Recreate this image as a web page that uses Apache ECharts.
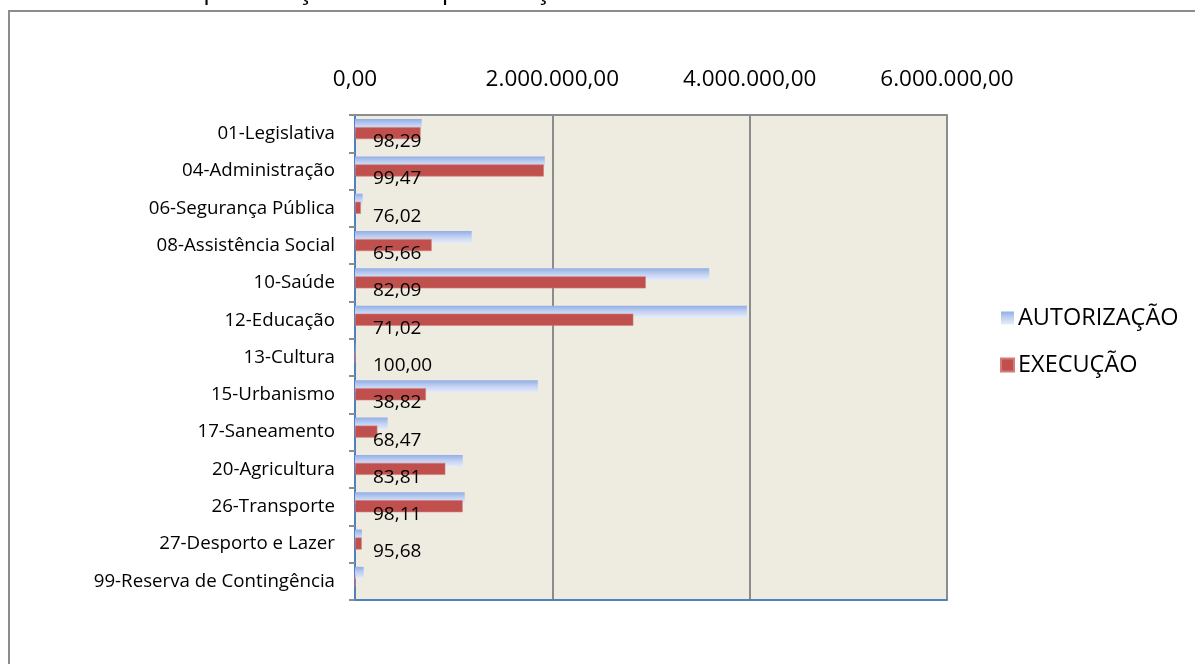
<!DOCTYPE html>
<html><head><meta charset="utf-8">
<script src="https://cdn.jsdelivr.net/npm/echarts@6/dist/echarts.min.js"></script>
<style>html,body{margin:0;padding:0;background:#fff;}#c{width:1195px;height:664px;}</style>
</head><body><div id="c"></div>
<script>
const titleText = 'Gráfico 09 – Despesa Orçamentária por Função de Governo Autorizada x Executada 2013';
const categories = ['01-Legislativa','04-Administração','06-Segurança Pública','08-Assistência Social','10-Saúde','12-Educação','13-Cultura','15-Urbanismo','17-Saneamento','20-Agricultura','26-Transporte','27-Desporto e Lazer','99-Reserva de Contingência'];
const autorizacao = [676000, 1924000, 78000, 1183000, 3590000, 3972000, 3000, 1853000, 331000, 1092000, 1112000, 71000, 88000];
const execucao   = [664500, 1913800, 59300, 777000, 2947000, 2821000, 3000, 719000, 226600, 915200, 1091000, 68000, 0];
const percentual = ['98,29','99,47','76,02','65,66','82,09','71,02','100,00','38,82','68,47','83,81','98,11','95,68',''];
const xTicks = [0, 2000000, 4000000, 6000000];

function fmt(v){
  const s = Math.round(v).toString().replace(/\B(?=(\d{3})+(?!\d))/g,'.');
  return s + ',00';
}
const font = 'Open Sans';
const chart = echarts.init(document.getElementById('c'));
chart.setOption({
  animation:false,
  backgroundColor:'#fff',
  title:{text:titleText,left:2,top:-26,textStyle:{fontFamily:font,fontSize:26,fontWeight:'normal',color:'#000'}},
  graphic:[{type:'rect',shape:{x:9,y:11,width:1300,height:800},style:{fill:'none',stroke:'#8c8c8c',lineWidth:2},silent:true}],
  grid:{left:355,top:115,width:592,height:485,show:true,backgroundColor:'#EEECE1',borderWidth:0},
  legend:{orient:'vertical',left:995,top:300,itemGap:21,itemWidth:13,itemHeight:13,icon:'rect',data:['AUTORIZAÇÃO','EXECUÇÃO'],
    textStyle:{fontFamily:font,fontSize:23.5,lineHeight:26,color:'#000',padding:[0,0,0,-1]}},
  xAxis:[{type:'value',position:'top',min:xTicks[0],max:xTicks[3],interval:2000000,
    axisLine:{show:true,lineStyle:{color:'#8c8c8c',width:2}},axisTick:{show:false},
    axisLabel:{formatter:fmt,fontFamily:font,fontSize:22.5,color:'#000',margin:24},
    splitLine:{show:true,lineStyle:{color:'#8c8c8c',width:2}}},
    {type:'value',position:'bottom',min:0,max:6000000,interval:2000000,
    axisLine:{show:true,lineStyle:{color:'#4F81BD',width:2}},axisTick:{show:false},axisLabel:{show:false},splitLine:{show:false}}],
  yAxis:[{type:'category',data:categories,inverse:true,
    axisLine:{show:true,lineStyle:{color:'#8c8c8c',width:2}},
    axisTick:{show:true,length:6,lineStyle:{color:'#8c8c8c',width:2}},
    axisLabel:{fontFamily:font,fontSize:18.7,color:'#000',margin:20}},
    {type:'category',data:categories,inverse:true,position:'right',
    axisLine:{show:true,lineStyle:{color:'#4F81BD',width:2}},axisTick:{show:false},axisLabel:{show:false}}],
  series:[
    {name:'AUTORIZAÇÃO',type:'bar',data:autorizacao,barWidth:12,barGap:'-33%',
      itemStyle:{color:new echarts.graphic.LinearGradient(0,0,0,1,[{offset:0,color:'#92AEE6'},{offset:0.5,color:'#C3D2F2'},{offset:1,color:'#E6ECFA'}])}},
    {name:'EXECUÇÃO',type:'bar',data:execucao,barWidth:12,barGap:'-33%',
      itemStyle:{color:'#C0504D',borderColor:'#D47A77',borderWidth:0.6}},
    {name:'pct',type:'bar',data:execucao.map(()=>0),barWidth:13,barGap:'-33%',
      itemStyle:{color:'rgba(0,0,0,0)'},
      label:{show:true,position:'insideLeft',offset:[13,0],formatter:p=>percentual[p.dataIndex],fontFamily:font,fontSize:19,color:'#000'}}
  ]
});
</script></body></html>
